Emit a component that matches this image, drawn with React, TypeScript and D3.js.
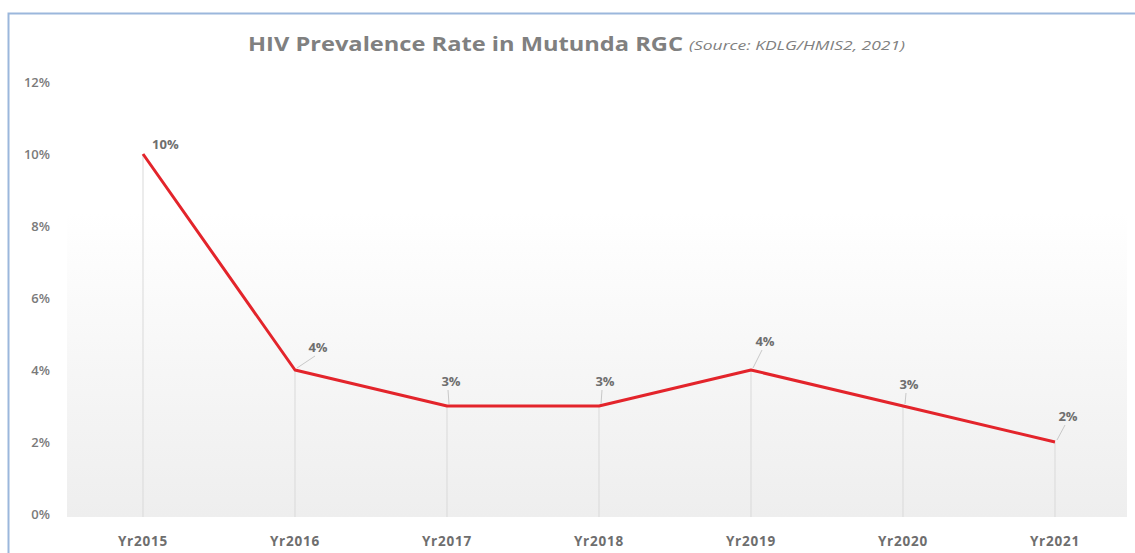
import React from "react";
import * as d3 from "d3";

const categories = ["Yr2015", "Yr2016", "Yr2017", "Yr2018", "Yr2019", "Yr2020", "Yr2021"];
const values = [10, 4, 3, 3, 4, 3, 2];
const yTicks = [0, 2, 4, 6, 8, 10, 12];
const labelDx = [9, 23, 4, 6, 14, 6, 13];
const labelDy = [-5, -18, -20, -20, -24, -17, -21];

const W = 1135;
const H = 553;
const plotLeft = 67;
const plotRight = 1131;
const plotTop = 82;
const plotBottom = 514;

export default function App() {
  const x = d3.scaleBand<string>().domain(categories).range([plotLeft, plotRight]);
  const y = d3.scaleLinear().domain([0, 12]).range([plotBottom, plotTop]);
  const cx = (c: string) => (x(c) as number) + x.bandwidth() / 2;
  const line = d3
    .line<number>()
    .x((_, i) => cx(categories[i]))
    .y((d) => y(d));
  const font = "'Open Sans', Lato, 'Noto Sans', sans-serif";
  return (
    <svg
      width={W}
      height={H}
      style={{ position: "absolute", left: 0, top: 0 }}
      fontFamily={font}
    >
      <defs>
        <linearGradient id="bg" x1="0" y1="0" x2="0" y2="1">
          <stop offset="0" stopColor="#ffffff" />
          <stop offset="0.3" stopColor="#ffffff" />
          <stop offset="1" stopColor="#eeeeee" />
        </linearGradient>
      </defs>
      <rect x={0} y={0} width={W} height={H} fill="#ffffff" />
      <rect x={plotLeft} y={plotTop} width={plotRight - 4 - plotLeft} height={plotBottom + 3 - plotTop} fill="url(#bg)" />
      <path d={`M8.5,${H} V13.5 H${W}`} fill="none" stroke="#9bb7dc" strokeWidth={2} />
      <text x={248} y={51} fontSize={19} fontWeight={700} fill="#808080" textLength={435} lengthAdjust="spacingAndGlyphs">
        HIV Prevalence Rate in Mutunda RGC
      </text>
      <text x={689} y={50} fontSize={12} fontStyle="italic" fontWeight={400} fill="#808080" textLength={216} lengthAdjust="spacingAndGlyphs">
        (Source: KDLG/HMIS2, 2021)
      </text>
      {yTicks.map((t) => (
        <text key={t} x={50} y={y(t) + 5} textAnchor="end" fontSize={13} fontWeight={600} fill="#7a7a7a">
          {t}%
        </text>
      ))}
      {categories.map((c, i) => (
        <line key={c} x1={cx(c)} x2={cx(c)} y1={y(values[i])} y2={plotBottom + 3} stroke="#d9d9d9" strokeWidth={1} />
      ))}
      {categories.map((c) => (
        <text key={c} x={cx(c)} y={546} textAnchor="middle" fontSize={13.5} fontWeight={700} fill="#6e6e6e" letterSpacing={0.8}>
          {c}
        </text>
      ))}
      <path d={line(values) || ""} fill="none" stroke="#e3242b" strokeWidth={3} strokeLinejoin="round" />
      {categories.map((c, i) => {
        const px = cx(c);
        const py = y(values[i]);
        const lx = px + labelDx[i];
        const ly = py + labelDy[i];
        return (
          <g key={c}>
            {i > 0 && (
              <line x1={px + 2} y1={py - 2} x2={lx - 3} y2={ly + 4} stroke="#c8c8c8" strokeWidth={1} />
            )}
            <text x={lx} y={ly} textAnchor={i === 0 ? "start" : "middle"} fontSize={13} fontWeight={700} fill="#6e6e6e">
              {values[i]}%
            </text>
          </g>
        );
      })}
    </svg>
  );
}
